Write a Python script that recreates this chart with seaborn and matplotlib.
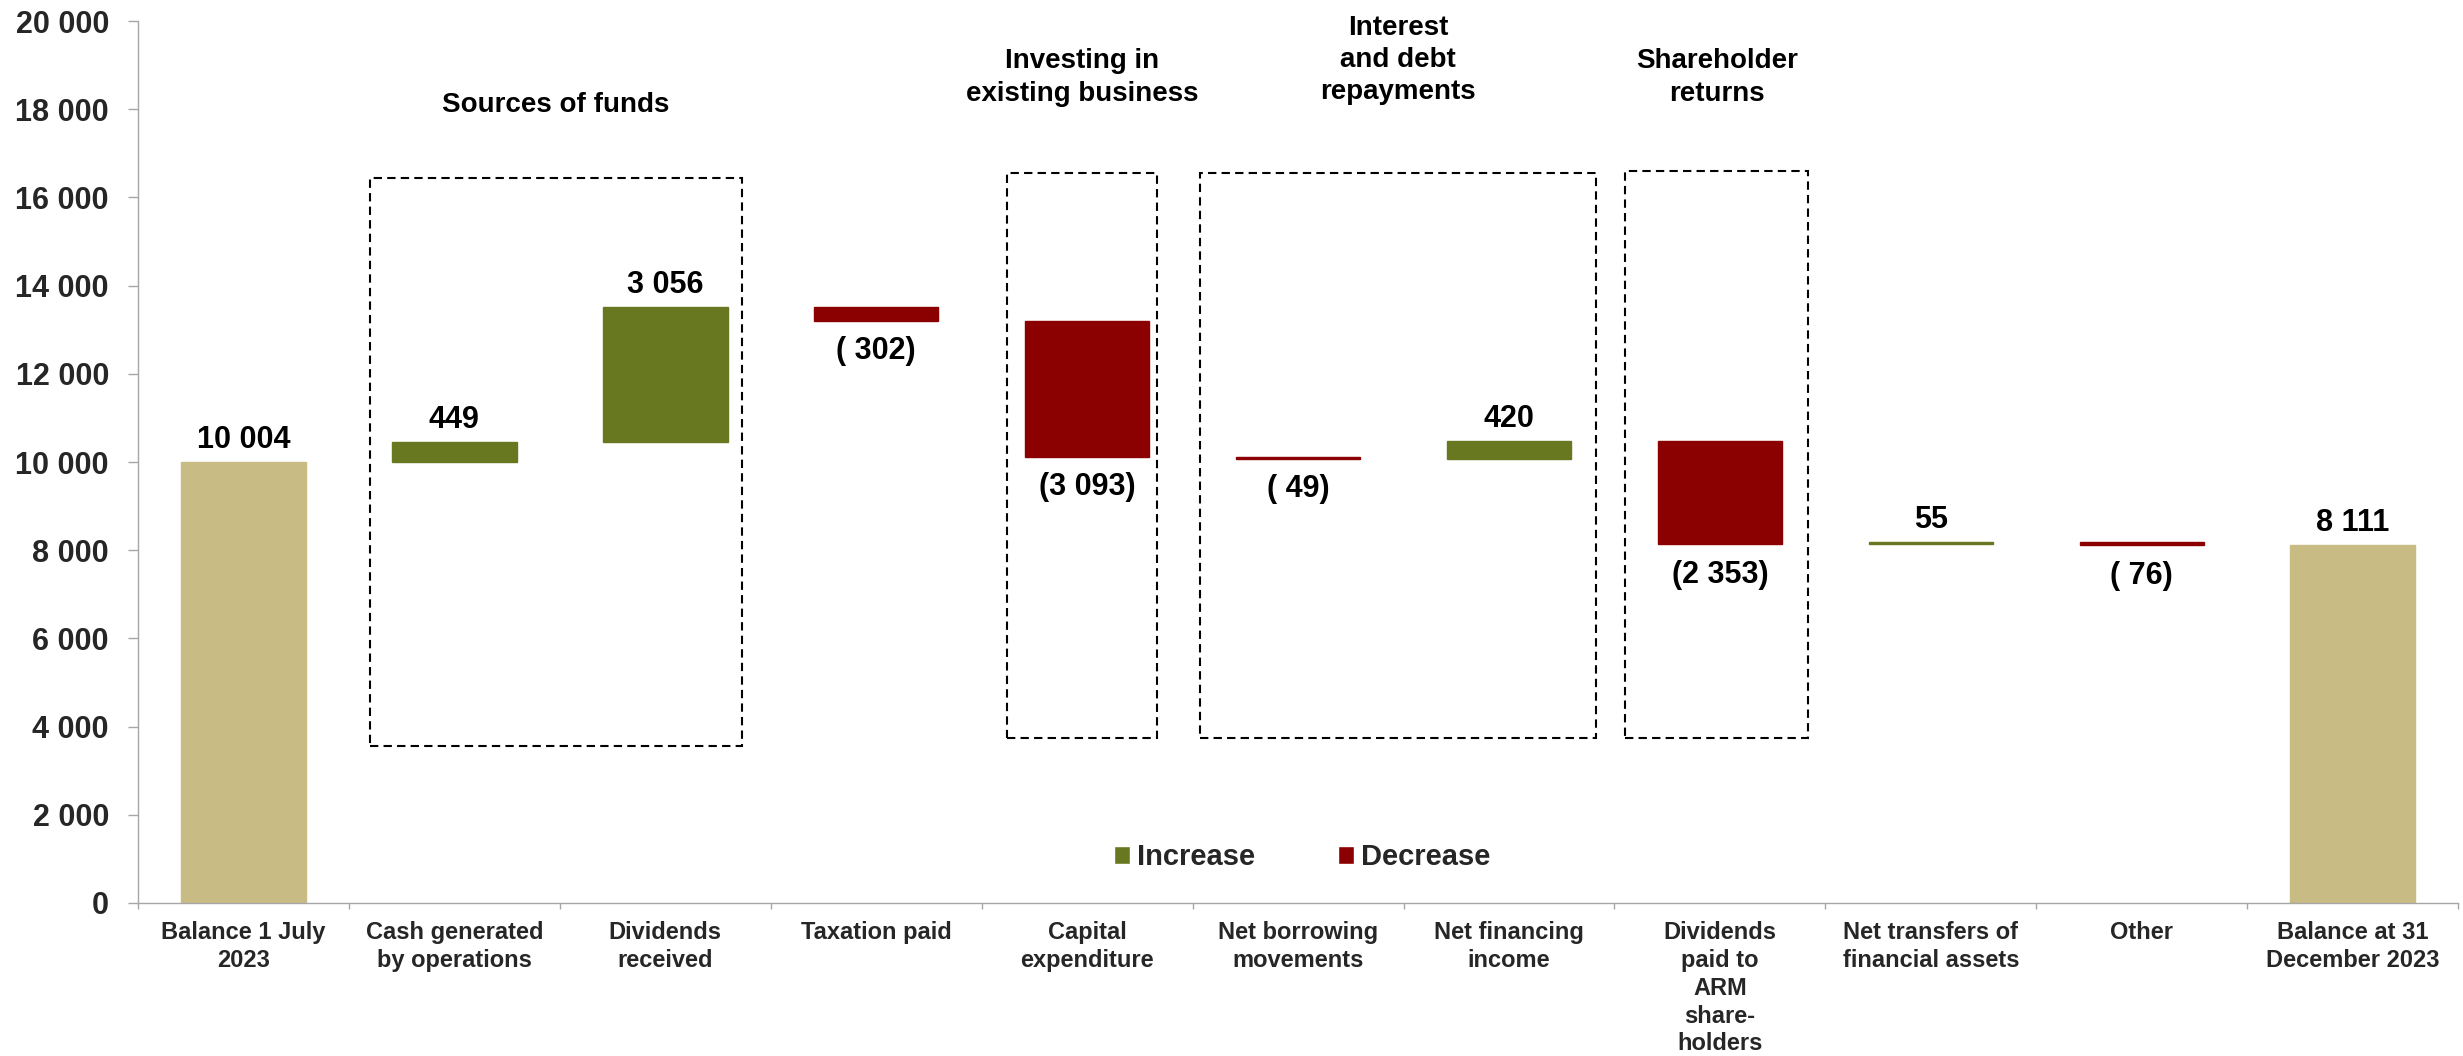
import matplotlib
matplotlib.use("Agg")
import matplotlib.pyplot as plt
import seaborn as sns
import pandas as pd
import numpy as np
from matplotlib.patches import Patch, Rectangle
from matplotlib.ticker import FuncFormatter

sns.set_theme(style="white")
plt.rcParams["font.family"] = ["Liberation Sans", "DejaVu Sans"]
plt.rcParams["font.weight"] = "bold"

# ---- data -------------------------------------------------------------
categories = [
    "Balance 1 July\n2023",
    "Cash generated\nby operations",
    "Dividends\nreceived",
    "Taxation paid",
    "Capital\nexpenditure",
    "Net borrowing\nmovements",
    "Net financing\nincome",
    "Dividends\npaid to\nARM\nshare-\nholders",
    "Net transfers of\nfinancial assets",
    "Other",
    "Balance at 31\nDecember 2023",
]
values = [10004, 449, 3056, -302, -3093, -49, 420, -2353, 55, -76, 8111]
kinds = ["Balance", "Increase", "Increase", "Decrease", "Decrease", "Decrease",
         "Increase", "Decrease", "Increase", "Decrease", "Balance"]
group_titles = ["Sources of funds", "Investing in\nexisting business",
                "Interest\nand debt\nrepayments", "Shareholder\nreturns"]
y_ticks = list(range(0, 20001, 2000))

colors = {"Balance": "#C8BB84", "Increase": "#677821", "Decrease": "#8B0000"}


def fmt_num(v):
    return f"{int(v):,}".replace(",", " ")


def fmt_label(v, kind):
    if kind == "Decrease":
        pad = " " if abs(v) < 1000 else ""
        return "(" + pad + fmt_num(abs(v)) + ")"
    return fmt_num(v)


# ---- waterfall geometry -----------------------------------------------
lows, highs = [], []
running = 0
for v, k in zip(values, kinds):
    if k == "Balance":
        lows.append(0)
        highs.append(v)
        running = v
    else:
        new = running + v
        lows.append(min(running, new))
        highs.append(max(running, new))
        running = new

df = pd.DataFrame({
    "category": categories,
    "height": np.subtract(highs, lows),
    "kind": kinds,
})

fig = plt.figure(figsize=(24.63, 10.56), dpi=100)
ax = fig.add_axes([0.05603, 0.1449, 0.9420, 0.8352])

sns.barplot(data=df, x="category", y="height", hue="kind", order=categories,
            hue_order=["Balance", "Increase", "Decrease"], palette=colors,
            dodge=False, width=0.59, saturation=1, legend=False, ax=ax)

# lift each bar onto its running base
for p in list(ax.patches):
    idx = int(round(p.get_x() + p.get_width() / 2))
    p.set_y(lows[idx])
    p.set_edgecolor(p.get_facecolor())
    p.set_linewidth(1.0)

# value labels
for i, (v, k) in enumerate(zip(values, kinds)):
    txt = fmt_label(v, k)
    if k == "Decrease":
        ax.annotate(txt, (i, lows[i]), xytext=(0, -11), textcoords="offset points",
                    ha="center", va="top", fontsize=22, fontweight="bold", color="black")
    else:
        ax.annotate(txt, (i, highs[i]), xytext=(0, 10), textcoords="offset points",
                    ha="center", va="baseline", fontsize=22, fontweight="bold", color="black")

# dashed group frames and their titles
frames = [
    (0.600, 2.364, 3550, 16450, 18100),
    (3.620, 4.332, 3750, 16550, 18719),
    (4.536, 6.413, 3750, 16550, 19116),
    (6.551, 7.418, 3750, 16600, 18719),
]
for (x0, x1, y0, y1, ty), title in zip(frames, group_titles):
    ax.add_patch(Rectangle((x0, y0), x1 - x0, y1 - y0, fill=False,
                           edgecolor="black", linewidth=1.5,
                           linestyle=(0, (4, 2.5)), zorder=3))
    ax.text((x0 + x1) / 2, ty, title, ha="center", va="center",
            fontsize=20, fontweight="bold", color="black", linespacing=1.32)

# axes styling
ax.set_xlim(-0.5, 10.5)
ax.set_ylim(0, 20000)
ax.set_xlabel("")
ax.set_ylabel("")
ax.set_yticks(y_ticks)
ax.yaxis.set_major_formatter(FuncFormatter(lambda v, _: fmt_num(v)))
ax.set_xticks(range(len(categories)))
ax.set_xticklabels(categories, fontsize=17, fontweight="bold", linespacing=1.27)
ax.set_xticks(np.arange(-0.5, len(categories), 1), minor=True)
ax.tick_params(axis="x", which="major", length=0, pad=13, bottom=True)
ax.tick_params(axis="x", which="minor", length=4.3, width=1, color="#A6A6A6",
               direction="out", bottom=True)
ax.tick_params(axis="y", which="major", length=7.2, width=1, color="#A6A6A6",
               direction="out", pad=13.7, labelsize=22, left=True)
for lab in ax.get_yticklabels():
    lab.set_fontweight("bold")
sns.despine(ax=ax)
for side in ("left", "bottom"):
    ax.spines[side].set_color("#A6A6A6")
    ax.spines[side].set_linewidth(1)
ax.grid(False)

handles = [Patch(facecolor=colors["Increase"], label="Increase"),
           Patch(facecolor=colors["Decrease"], label="Decrease")]
fig.legend(handles=handles, loc="center", bbox_to_anchor=(0.5286, 0.1884), ncol=2,
           frameon=False, prop={"size": 21, "weight": "bold"}, handlelength=0.55,
           handleheight=0.6, handletextpad=0.24, columnspacing=2.84, borderpad=0)

fig.savefig("out.png", dpi=100)
